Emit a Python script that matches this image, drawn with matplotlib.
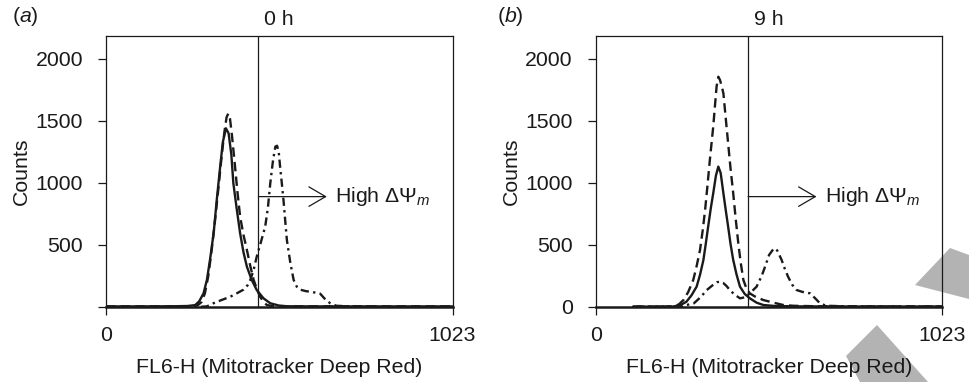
import matplotlib
matplotlib.use("Agg")
import matplotlib.pyplot as plt
from matplotlib.patches import Polygon

plt.rcParams['font.family'] = ['Liberation Sans', 'DejaVu Sans']
plt.rcParams['mathtext.fontset'] = 'custom'
plt.rcParams['mathtext.rm'] = 'Liberation Sans'
plt.rcParams['mathtext.it'] = 'Liberation Sans:italic'

# ---- data (FL6-H channel, counts) ----
gate = 450
arrow_y = 890
arrow_end = 652

# panel (a) 0 h
a_solid_x = [0, 100, 200, 240, 263, 275, 288, 298, 307, 318, 327, 337, 345, 354, 362, 370, 376,
             386, 396, 406, 416, 430, 445, 465, 485, 510, 534, 600, 700, 800, 1023]
a_solid_y = [5, 5, 6, 8, 15, 45, 110, 220, 379, 600, 863, 1130, 1330, 1441, 1400, 1230, 998,
             790, 594, 440, 325, 220, 137, 70, 30, 12, 6, 5, 5, 5, 5]
a_dash_x = [0, 200, 250, 270, 282, 292, 302, 312, 322, 332, 342, 350, 356, 361, 366, 372, 381,
            388, 396, 406, 416, 426, 436, 446, 455, 465, 475, 490, 520, 600, 1023]
a_dash_y = [5, 5, 6, 12, 40, 110, 250, 460, 700, 960, 1230, 1420, 1530, 1560, 1520, 1380, 1131,
            930, 728, 580, 460, 330, 218, 140, 83, 40, 16, 8, 5, 5, 5]
a_dd_x = [280, 298, 317, 340, 367, 386, 406, 418, 426, 436, 445, 458, 470, 478, 485, 493, 500,
          505, 510, 514, 519, 524, 529, 534, 544, 554, 563, 573, 590, 610, 632, 648, 662, 680,
          720, 800]
a_dd_y = [2, 5, 30, 55, 83, 110, 140, 175, 218, 300, 406, 530, 648, 800, 998, 1180, 1293,
          1300, 1250, 1131, 1000, 863, 700, 540, 360, 218, 165, 140, 128, 120, 108, 60, 30, 10,
          5, 3]

# panel (b) 9 h
b_solid_x = [110, 200, 229, 250, 268, 283, 298, 308, 318, 325, 332, 340, 347, 355, 362, 369, 377,
             384, 391, 398, 406, 416, 426, 440, 455, 475, 495, 530, 600, 800, 1023]
b_solid_y = [3, 3, 4, 15, 43, 95, 164, 260, 379, 510, 648, 800, 917, 1060, 1132, 1080, 917,
             780, 648, 510, 379, 260, 164, 105, 70, 35, 16, 8, 5, 4, 4]
b_dash_x = [110, 200, 229, 245, 259, 273, 288, 298, 308, 316, 323, 330, 337, 342, 347, 352, 357,
            362, 367, 372, 377, 384, 391, 398, 406, 413, 421, 428, 436, 445, 455, 470, 495, 525,
            554, 583, 650, 800, 1023]
b_dash_y = [3, 3, 5, 20, 56, 120, 218, 330, 460, 620, 782, 980, 1185, 1320, 1454, 1620, 1780,
            1857, 1830, 1780, 1723, 1520, 1320, 1120, 917, 720, 514, 360, 218, 150, 110, 85, 56,
            35, 16, 10, 6, 4, 4]
b_dd_x = [120, 250, 290, 310, 328, 345, 358, 367, 376, 386, 396, 410, 426, 440, 455, 475, 490,
          500, 512, 524, 530, 536, 542, 549, 558, 568, 580, 593, 610, 633, 648, 662, 680, 750,
          900, 1023]
b_dd_y = [3, 4, 30, 80, 137, 175, 200, 204, 195, 170, 137, 100, 70, 78, 110, 164, 250,
          325, 420, 465, 473, 455, 420, 379, 310, 244, 180, 137, 122, 110, 70, 30, 10, 5, 4, 4]

panels = [
    dict(tag='a', title='0 h', left=106, tagx=12, solid=(a_solid_x, a_solid_y),
         dash=(a_dash_x, a_dash_y), dd=(a_dd_x, a_dd_y),
         yticklabels=['', '500', '1000', '1500', '2000']),
    dict(tag='b', title='9 h', left=595.7, tagx=497, solid=(b_solid_x, b_solid_y),
         dash=(b_dash_x, b_dash_y), dd=(b_dd_x, b_dd_y),
         yticklabels=['0', '500', '1000', '1500', '2000']),
]

W, H = 969, 382
fig = plt.figure(figsize=(W / 100, H / 100), dpi=100)
fs = 15.3
ink = '#1a1a1a'

for p in panels:
    ax = fig.add_axes([p['left'] / W, 1 - 307 / H, 346.5 / W, 271 / H])
    ax.patch.set_alpha(0)
    ax.plot(*p['solid'], color=ink, lw=1.7, solid_capstyle='round')
    ax.plot(*p['dash'], color=ink, lw=1.7, dashes=(4, 2.2))
    ax.plot(*p['dd'], color=ink, lw=1.7, dashes=(3.5, 1.8, 1, 1.8))
    ax.axvline(gate, color=ink, lw=0.9)
    ax.annotate('', xy=(arrow_end, arrow_y), xytext=(gate, arrow_y),
                arrowprops=dict(arrowstyle='->,head_length=1.2,head_width=0.7',
                                mutation_scale=10, color=ink, lw=0.9,
                                shrinkA=0, shrinkB=0))
    ax.text(arrow_end + 25, arrow_y, r'High $\Delta\Psi_m$', fontsize=fs,
            va='center', ha='left', color=ink)

    ax.set_xlim(0, 1023)
    ax.set_ylim(0, 2185)
    ax.set_xticks([0, 1023])
    ax.set_xticklabels(['0', '1023'])
    ax.set_yticks([0, 500, 1000, 1500, 2000])
    ax.set_yticklabels(p['yticklabels'])
    ax.tick_params(direction='out', length=6, width=0.9, labelsize=fs, colors=ink)
    ax.tick_params(axis='y', pad=10.5)
    ax.tick_params(axis='x', pad=8)
    for s in ['left', 'top', 'right']:
        ax.spines[s].set_linewidth(0.9)
        ax.spines[s].set_color(ink)
    ax.spines['bottom'].set_linewidth(1.8)
    ax.spines['bottom'].set_color(ink)

    ax.set_xlabel('FL6-H (Mitotracker Deep Red)', fontsize=fs, labelpad=9, color=ink)
    ax.set_ylabel('Counts', fontsize=fs, labelpad=3.5, color=ink)
    ax.set_title(p['title'], fontsize=fs, pad=8, color=ink)
    fig.text(p['tagx'] / W, 1 - 17 / H, '(' + '$\\it{' + p['tag'] + '}$' + ')',
             fontsize=fs, va='center', ha='left', color=ink)

# grey triangles from the source page, behind everything
tri1 = [(915, 285), (950, 248), (969, 255), (969, 299)]
tri2 = [(877, 325), (846, 356), (860, 382), (928, 382)]
for tri in (tri1, tri2):
    fig.patches.append(Polygon([(x / W, 1 - y / H) for x, y in tri], closed=True,
                               transform=fig.transFigure, facecolor='#b3b3b3',
                               edgecolor='none', zorder=-1))

fig.savefig('out.png', dpi=100)
